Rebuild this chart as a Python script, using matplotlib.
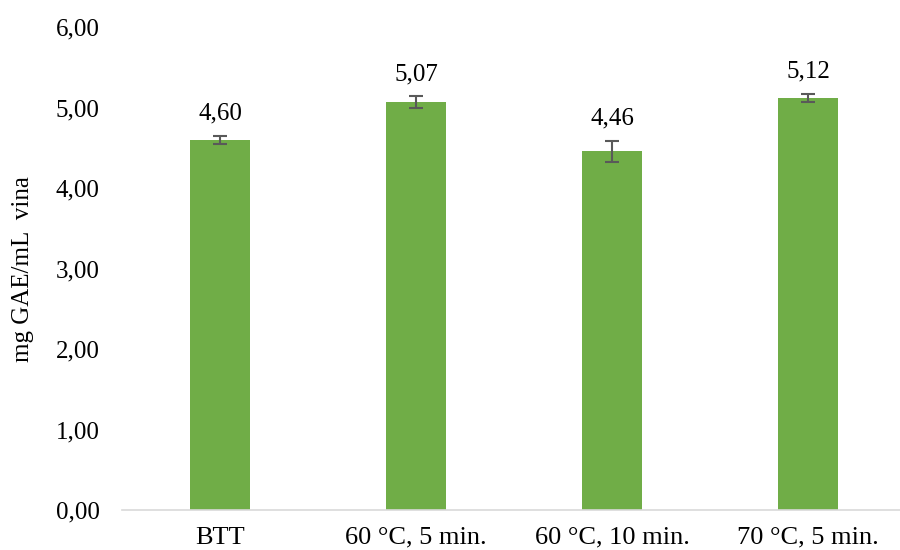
import matplotlib
matplotlib.use("Agg")
import matplotlib.pyplot as plt
from matplotlib.ticker import FuncFormatter

categories = ["BTT", "60 °C, 5 min.", "60 °C, 10 min.", "70 °C, 5 min."]
values = [4.60, 5.07, 4.46, 5.12]
errors = [0.05, 0.07, 0.13, 0.05]
labels = ["4,60", "5,07", "4,46", "5,12"]
yticks = [0, 1, 2, 3, 4, 5, 6]

plt.rcParams['font.family'] = ['Liberation Serif', 'DejaVu Serif']

fig = plt.figure(figsize=(9, 5.5), dpi=100)
ax = fig.add_axes([0.1356, 0.0727, 0.871, 0.878])

x = list(range(len(categories)))
ax.bar(x, values, width=0.31, color="#70AD47", zorder=2)
ax.errorbar(x, values, yerr=errors, fmt="none", ecolor="#595959",
            elinewidth=1.5, capsize=5, capthick=1.5, zorder=3)
for xi, v, e, lab in zip(x, values, errors, labels):
    ax.annotate(lab, (xi, v + e), xytext=(0, 8), textcoords="offset points",
                ha="center", va="bottom", fontsize=18, color="#000000")

ax.set_xlim(-0.5, 3.5)
ax.set_ylim(0, 6)
ax.set_yticks(yticks)
ax.yaxis.set_major_formatter(FuncFormatter(lambda v, p: f"{v:.2f}".replace(".", ",")))
ax.set_xticks(x)
ax.set_xticklabels(categories)
ax.tick_params(axis="both", length=0, labelsize=18, colors="#000000")
ax.tick_params(axis="x", labelsize=19, pad=12)
ax.tick_params(axis="y", pad=16)
for s in ["top", "right", "left"]:
    ax.spines[s].set_visible(False)
ax.spines["bottom"].set_color("#D9D9D9")
ax.spines["bottom"].set_linewidth(1.2)
ax.set_ylabel("mg GAE/mL  vina", fontsize=18, labelpad=16)

fig.savefig("out.png", dpi=100)
